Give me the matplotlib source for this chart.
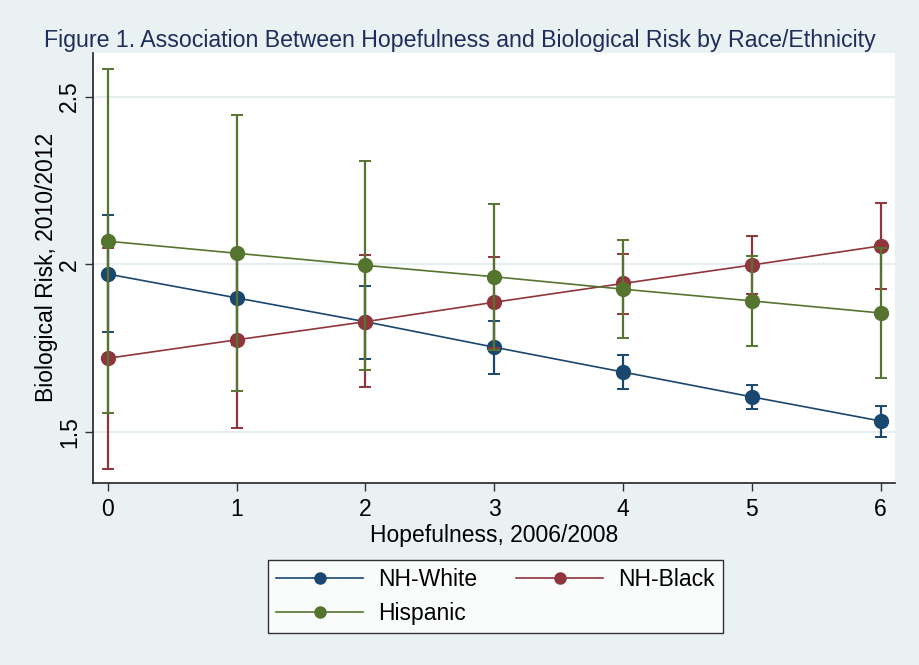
import matplotlib
matplotlib.use("Agg")
import matplotlib.pyplot as plt
from matplotlib.lines import Line2D

plt.rcParams["font.family"] = ["Liberation Sans", "DejaVu Sans"]

hope = [0, 1, 2, 3, 4, 5, 6]

# NH-White: estimate, lower, upper
white = [1.971, 1.900, 1.829, 1.753, 1.679, 1.605, 1.533]
white_lo = [1.799, 1.760, 1.717, 1.674, 1.628, 1.570, 1.486]
white_hi = [2.146, 2.040, 1.934, 1.831, 1.730, 1.641, 1.578]

# NH-Black
black = [1.720, 1.775, 1.829, 1.887, 1.943, 1.998, 2.055]
black_lo = [1.391, 1.513, 1.634, 1.752, 1.853, 1.912, 1.926]
black_hi = [2.049, 2.037, 2.028, 2.022, 2.032, 2.084, 2.182]

# Hispanic
hisp = [2.069, 2.033, 1.997, 1.963, 1.926, 1.891, 1.855]
hisp_lo = [1.556, 1.622, 1.685, 1.745, 1.781, 1.757, 1.661]
hisp_hi = [2.582, 2.445, 2.309, 2.181, 2.072, 2.025, 2.049]

series = [
    ("NH-White", white, white_lo, white_hi, "#1a476f"),
    ("NH-Black", black, black_lo, black_hi, "#90353b"),
    ("Hispanic", hisp, hisp_lo, hisp_hi, "#55752f"),
]

bg = "#eaf1f3"
fig = plt.figure(figsize=(9.2, 6.65), dpi=100, facecolor=bg)
ax = fig.add_axes([0.1014, 0.2741, 0.8714, 0.6462])
ax.set_facecolor("white")

for i, (name, est, lo, hi, col) in enumerate(series):
    err = [[e - l for e, l in zip(est, lo)], [h - e for e, h in zip(est, hi)]]
    ax.errorbar(hope, est, yerr=err, color=col, lw=1.2, elinewidth=1.6,
                capsize=4.5, capthick=1.4, marker="o", markersize=10,
                zorder=3 + i)

ax.set_xlim(-0.113, 6.112)
ax.set_ylim(1.349, 2.630)
ax.set_xticks(hope)
ax.set_yticks([1.5, 2, 2.5])
ax.set_yticklabels(["1.5", "2", "2.5"], rotation=90, va="center")
ax.tick_params(labelsize=16.5, length=6, width=1, color="#333333", pad=5)
ax.tick_params(axis="y", pad=3)
ax.grid(axis="y", color="#e6eef0", lw=1.5)
ax.set_axisbelow(True)

for s in ["top", "right"]:
    ax.spines[s].set_visible(False)
for s in ["left", "bottom"]:
    ax.spines[s].set_color("#222222")
    ax.spines[s].set_linewidth(1.2)

ax.set_xlabel("Hopefulness, 2006/2008", fontsize=16.5, labelpad=2)
ax.set_ylabel("Biological Risk, 2010/2012", fontsize=16.5, labelpad=0)
fig.suptitle("Figure 1. Association Between Hopefulness and Biological Risk by Race/Ethnicity",
             x=0.5, y=0.957, fontsize=16.7, color="#1e2d5c")

# legend: column order White, Hispanic | Black
order = [0, 2, 1]
leg_handles = [Line2D([], [], color=series[k][4], lw=1.2, marker="o", markersize=8)
               for k in order]
leg = fig.legend(leg_handles, [series[k][0] for k in order], loc="center",
                 bbox_to_anchor=(0.5386, 0.1030), ncol=2, fontsize=16.5,
                 frameon=True, fancybox=False, edgecolor="black",
                 handlelength=3.8, columnspacing=1.7, labelspacing=0.45,
                 borderpad=0.35, handletextpad=0.65)
leg.get_frame().set_linewidth(1.0)

fig.savefig("out.png", dpi=100, facecolor=bg)
